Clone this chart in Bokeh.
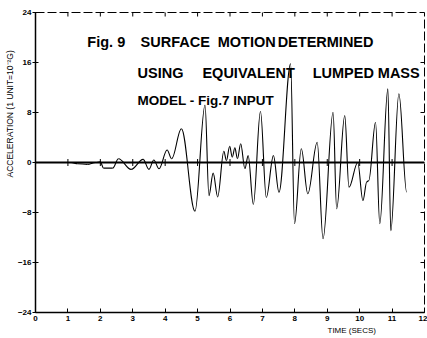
import math
from bokeh.plotting import figure
from bokeh.models import Span, Label, FixedTicker, Title
from bokeh.embed import file_html
from bokeh.resources import INLINE

# Waveform turning points (time in s, acceleration in 10^-2 g)
time_s = [0.0, 1.1, 1.3, 1.6, 1.85, 2.0, 2.1, 2.38, 2.56, 2.95, 3.32, 3.50, 3.65, 3.81,
          4.06, 4.20, 4.50, 4.92, 5.23, 5.35, 5.48, 5.62, 5.81, 5.89, 5.99, 6.07,
          6.15, 6.23, 6.33, 6.46, 6.56, 6.72, 6.94, 7.12, 7.34, 7.51, 7.87, 7.99, 8.20,
          8.40, 8.69, 8.87, 9.18, 9.29, 9.54, 9.67, 9.94, 10.10, 10.22, 10.28, 10.49,
          10.62, 10.87, 10.96, 11.21, 11.45]
accel = [0.0, 0.0, -0.2, -0.3, 0.0, 0.1, -0.9, -0.9, 0.6, -1.1, 0.5, -1.1, 0.4, -1.0,
         2.0, 0.6, 5.4, -7.8, 9.2, -5.3, -1.7, -5.5, 1.8, 0.3, 2.6, 0.85,
         2.35, 0.6, 3.0, -1.0, 1.1, -6.7, 8.2, -5.6, 1.1, -4.75, 15.8, -9.8, 2.2,
         -5.0, 3.25, -12.2, 8.05, -7.4, 7.5, -3.95, 0.0, -6.1, -3.1, -2.9, 6.45,
         -9.8, 11.8, -10.9, 11.0, -4.75]

x_ticks = [0, 1, 2, 3, 4, 5, 6, 7, 8, 9, 10, 11, 12]
y_ticks = [-24, -16, -8, 0, 8, 16, 24]

title_words = ["Fig. 9", "SURFACE", "MOTION", "DETERMINED"]
title_x = [1.60, 3.24, 5.62, 7.47]
line2_words = ["USING", "EQUIVALENT", "LUMPED", "MASS"]
line2_x = [3.15, 5.15, 8.55, 10.56]
line3_text = "MODEL - Fig.7 INPUT"
y_label = "ACCELERATION (1 UNIT=10\u207b\u00b2G)"
x_label = "TIME (SECS)"

FONT = "Liberation Sans"
W, H = 427, 338
ML, MR, MT, MB = 35, 3, 12, 26

p = figure(width=W, height=H, x_range=(0, 12), y_range=(-24, 24),
           output_backend="svg", toolbar_location=None,
           min_border_left=ML, min_border_right=MR, min_border_top=MT, min_border_bottom=MB)
p.outline_line_color = "black"
p.outline_line_width = 1
p.outline_line_dash = "9 3"
p.background_fill_color = "white"
p.border_fill_color = "white"
p.xgrid.visible = False
p.ygrid.visible = False

for ax in (p.xaxis[0], p.yaxis[0]):
    ax.axis_line_color = "black"
    ax.axis_line_width = 1.5
    ax.major_tick_line_color = "black"
    ax.minor_tick_line_color = None
    ax.major_label_text_font = FONT
    ax.major_label_text_font_size = "8px"
    ax.major_label_text_font_style = "bold"
    ax.major_label_text_color = "black"

p.xaxis.ticker = FixedTicker(ticks=x_ticks)
p.yaxis.ticker = FixedTicker(ticks=y_ticks)
p.xaxis.major_tick_in = 4
p.xaxis.major_tick_out = 0
p.xaxis.major_label_standoff = 3
p.yaxis.major_tick_in = 3
p.yaxis.major_tick_out = 3
p.yaxis.major_label_standoff = 1

# inward ticks on top and right border (glyphs are clipped to the frame)
p.scatter(x=x_ticks[1:-1], y=[y_ticks[-1]] * (len(x_ticks) - 2), marker="dash",
          angle=math.pi / 2, size=8, line_color="black", line_width=1)
p.scatter(x=[x_ticks[-1]] * (len(y_ticks) - 2), y=y_ticks[1:-1], marker="dash",
          size=8, line_color="black", line_width=1)

# zero line with ticks
p.add_layout(Span(location=0, dimension="width", line_color="black", line_width=2))
p.scatter(x=x_ticks[1:-1], y=[0] * (len(x_ticks) - 2), marker="dash", angle=math.pi / 2,
          size=7, line_color="black", line_width=1)

# smooth drawing of the trace between successive turning points
k = 0.36
x0 = time_s[:-1]
x1 = time_s[1:]
y0 = accel[:-1]
y1 = accel[1:]
cx0 = [a + k * (b - a) for a, b in zip(x0, x1)]
cx1 = [b - k * (b - a) for a, b in zip(x0, x1)]
p.bezier(x0=x0, y0=y0, x1=x1, y1=y1, cx0=cx0, cy0=y0, cx1=cx1, cy1=y1,
         line_color="black", line_width=1.1)

for w, xx in zip(title_words, title_x):
    p.add_layout(Label(x=xx, y=19.3, text=w, text_font=FONT, text_font_size="14.5px",
                       text_font_style="bold", text_color="black", text_baseline="alphabetic"))
for w, xx in zip(line2_words, line2_x):
    p.add_layout(Label(x=xx, y=14.4, text=w, text_font=FONT, text_font_size="14.5px",
                       text_font_style="bold", text_color="black", text_baseline="alphabetic"))
p.add_layout(Label(x=3.15, y=9.9, text=line3_text, text_font=FONT, text_font_size="13.5px",
                   text_font_style="bold", text_color="black", text_baseline="alphabetic"))

# axis titles placed off-centre as in the reference
p.add_layout(Title(text=y_label, align="left", offset=135, text_font=FONT,
                   text_font_size="8.5px", text_font_style="normal", text_color="black",
                   standoff=0), "left")
p.add_layout(Title(text=x_label, align="left", offset=292, text_font=FONT,
                   text_font_size="8px", text_font_style="normal", text_color="black",
                   standoff=0), "below")

open("out.html", "w").write(file_html(p, INLINE))
